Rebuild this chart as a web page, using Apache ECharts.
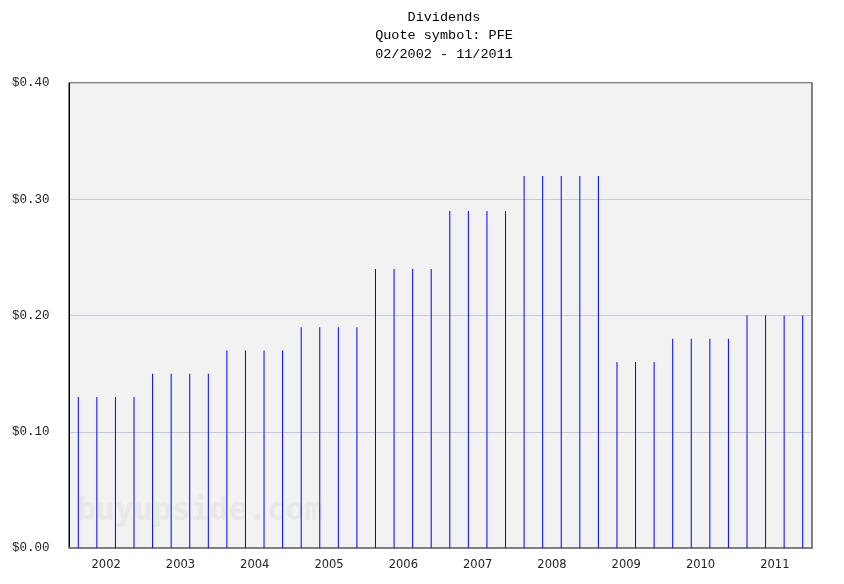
<!DOCTYPE html>
<html>
<head>
<meta charset="utf-8">
<script src="https://cdn.jsdelivr.net/npm/echarts@6/dist/echarts.min.js"></script>
<style>html,body{margin:0;padding:0;background:#fff}#c{width:844px;height:584px}</style>
</head>
<body>
<div id="c"></div>
<script>
const payDates = ['02/2002','05/2002','08/2002','11/2002','02/2003','05/2003','08/2003','11/2003','02/2004','05/2004','08/2004','11/2004','02/2005','05/2005','08/2005','11/2005','02/2006','05/2006','08/2006','11/2006','02/2007','05/2007','08/2007','11/2007','02/2008','05/2008','08/2008','11/2008','02/2009','05/2009','08/2009','11/2009','02/2010','05/2010','08/2010','11/2010','02/2011','05/2011','08/2011','11/2011'];
const dividends = [0.13,0.13,0.13,0.13,0.15,0.15,0.15,0.15,0.17,0.17,0.17,0.17,0.19,0.19,0.19,0.19,0.24,0.24,0.24,0.24,0.29,0.29,0.29,0.29,0.32,0.32,0.32,0.32,0.32,0.16,0.16,0.16,0.18,0.18,0.18,0.18,0.20,0.20,0.20,0.20];
const years = ['2002','2003','2004','2005','2006','2007','2008','2009','2010','2011'];
const titleLines = ['Dividends', 'Quote symbol: PFE', '02/2002 - 11/2011'];

const chart = echarts.init(document.getElementById('c'));
chart.setOption({
  animation: false,
  backgroundColor: '#ffffff',
  title: {
    text: titleLines.join('\n'),
    left: 439, top: 3, textAlign: 'center',
    textStyle: { fontFamily: 'Liberation Mono', fontSize: 13.5, fontWeight: 'normal', color: '#000', lineHeight: 18.5, align: 'center' }
  },
  grid: { left: 69, right: 32, top: 83, bottom: 36, show: true, backgroundColor: '#f2f2f2', borderColor: '#000', borderWidth: 1 },
  graphic: [{
    type: 'text', left: 77, top: 496, z: 1, silent: true,
    style: { text: 'buyupside.com', font: 'bold 31.5px "DejaVu Sans Mono"', fill: '#e8e8e8' }
  }],
  xAxis: [{
    type: 'category', data: payDates, boundaryGap: true,
    axisLine: { show: true, lineStyle: { color: '#808080', width: 2 } },
    axisTick: { show: false }, axisLabel: { show: false }, splitLine: { show: false }
  }, {
    type: 'category', data: years, boundaryGap: true, position: 'bottom',
    axisLine: { show: false }, axisTick: { show: false }, splitLine: { show: false },
    axisLabel: { show: true, margin: 11, fontFamily: 'DejaVu Sans', fontSize: 11.5, color: '#222' }
  }],
  yAxis: [{
    type: 'value', min: 0, max: 0.4, interval: 0.1,
    axisLine: { show: true, lineStyle: { color: '#000', width: 1 } },
    axisTick: { show: false },
    splitLine: { show: true, lineStyle: { color: '#c8c8dc', width: 1 } },
    axisLabel: { align: 'left', verticalAlign: 'middle', padding: [0, 0, 3, 0], margin: 57, fontFamily: 'Liberation Mono', fontSize: 12.5, color: '#222',
      formatter: v => '$' + v.toFixed(2) }
  }, {
    type: 'value', min: 0, max: 0.4, interval: 0.1, position: 'right',
    axisLine: { show: true, lineStyle: { color: '#808080', width: 2 } },
    axisTick: { show: false }, axisLabel: { show: false }, splitLine: { show: false }
  }],
  series: [{
    type: 'bar', xAxisIndex: 0, yAxisIndex: 0, data: dividends, barWidth: 1, z: 3,
    itemStyle: { color: '#0000ff' }
  }]
});
</script>
</body>
</html>
